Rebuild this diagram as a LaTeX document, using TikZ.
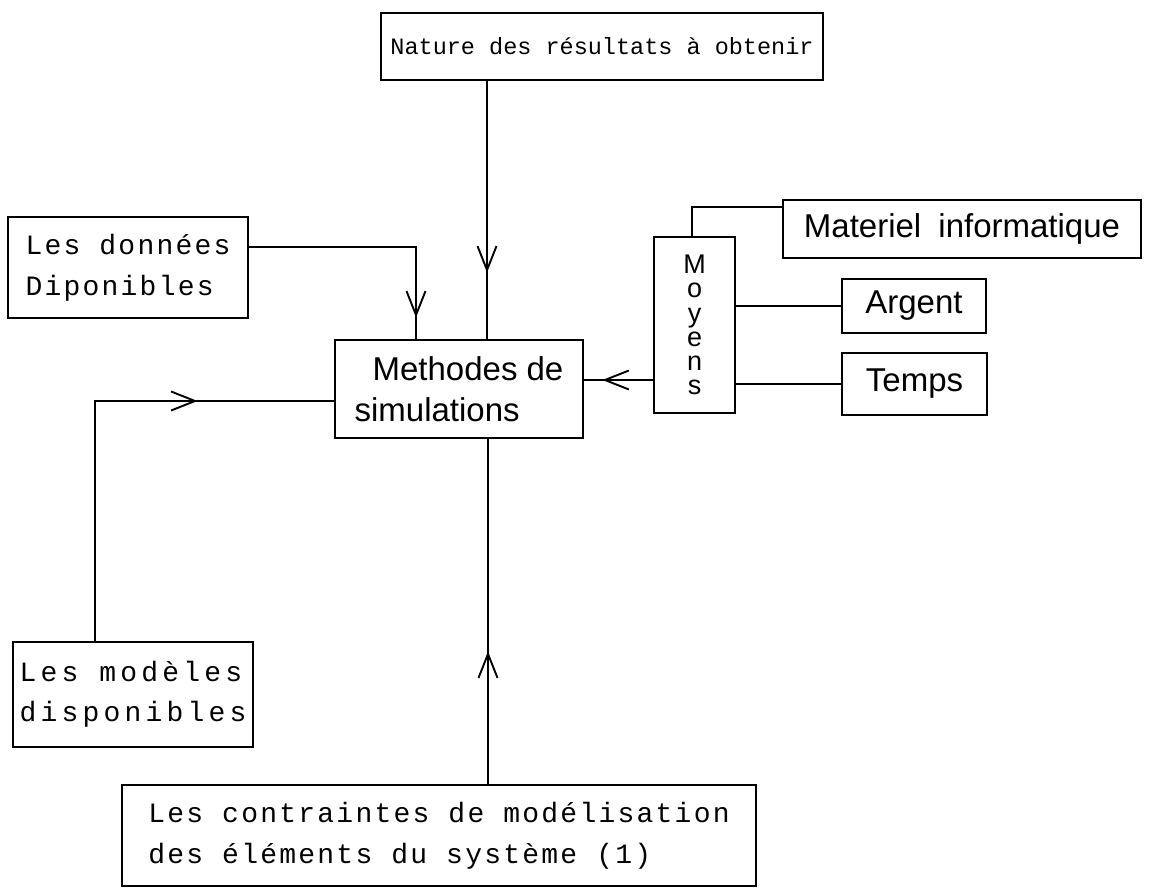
\documentclass[tikz,border=0pt]{standalone}
\usepackage{fontspec}
\usetikzlibrary{arrows.meta,decorations.markings}
\newfontfamily\monoplain{Liberation Mono}
\newfontfamily\monof{Liberation Mono}[LetterSpace=8]
\newfontfamily\monow{Liberation Mono}[LetterSpace=15]
\newfontfamily\sansf{Liberation Sans}
\tikzset{
  box/.style={draw, line width=1.3pt, inner sep=0pt, align=left},
  conn/.style={line width=1.3pt},
  midarrow/.style={conn, postaction={decorate},
    decoration={markings, mark=at position #1 with {\arrow{Straight Barb[length=24pt,width=19pt,line width=1.9pt]}}}},
  monotext/.style={font=\monof\fontsize{28}{41}\selectfont},
  monowide/.style={font=\monow\fontsize{28}{40}\selectfont},
  sanstext/.style={font=\sansf\fontsize{33}{41}\selectfont},
  sanssmall/.style={font=\sansf\fontsize{33}{36}\selectfont}
}
\begin{document}
\begin{tikzpicture}[x=1pt,y=-1pt]
\useasboundingbox[fill=white] (0,0) rectangle (1149,888);
% boxes
\node[box, minimum width=442pt, minimum height=67pt, font=\monoplain\fontsize{23.5}{28}\selectfont] (top) at (602,46.5) {Nature des résultats à obtenir};
\node[box, monotext, minimum width=240pt, minimum height=101pt] (don) at (128,267.5) {Les données\\Diponibles};
\node[box, monowide, minimum width=240pt, minimum height=105pt] (mod) at (133,694.5) {Les modèles\\disponibles};
\node[box, monotext, minimum width=634pt, minimum height=101pt] (bot) at (439,835.5) {Les contraintes de modélisation\\des éléments du système (1)};
\node[box, sanstext, minimum width=248pt, minimum height=98pt] (cen) at (459,389) {\hspace{18pt}Methodes de\\simulations};
\node[box, align=center, minimum width=81pt, minimum height=176pt, font=\sansf\fontsize{27}{24.2}\selectfont] (moy) at (694.5,325) {M\\o\\y\\e\\n\\s};
\node[box, sanssmall, align=center, minimum width=358pt, minimum height=58pt] (mat) at (962,229) {Materiel\hspace{8pt} informatique};
\node[box, sanssmall, align=center, minimum width=144pt, minimum height=54pt] (arg) at (914,306) {Argent};
\node[box, sanssmall, align=center, minimum width=145pt, minimum height=62pt] (tem) at (914.5,384) {Temps};
% helper coordinates
\coordinate (vt) at ([xshift=28pt]cen.north);
\coordinate (vb) at ([xshift=29pt]cen.south);
\coordinate (vd) at ([xshift=-43pt]cen.north);
% connectors
\draw[midarrow=192pt] (top.south -| vt) -- (vt);
\draw[midarrow=238pt] ([yshift=20.5pt]don.east) -| (vd);
\draw[midarrow=343pt] ([xshift=-38pt]mod.north) |- ([yshift=-12pt]cen.west);
\draw[midarrow=133pt] (bot.north -| vb) -- (vb);
\draw[midarrow=51pt] ([yshift=-55pt]moy.west) -- ([yshift=-55pt]moy.west -| cen.east);
\draw[conn] ([xshift=-2.5pt]moy.north) |- ([yshift=22pt]mat.west);
\draw[conn] (moy.east |- arg.west) -- (arg.west);
\draw[conn] (moy.east |- tem.west) -- (tem.west);
\end{tikzpicture}
\end{document}
